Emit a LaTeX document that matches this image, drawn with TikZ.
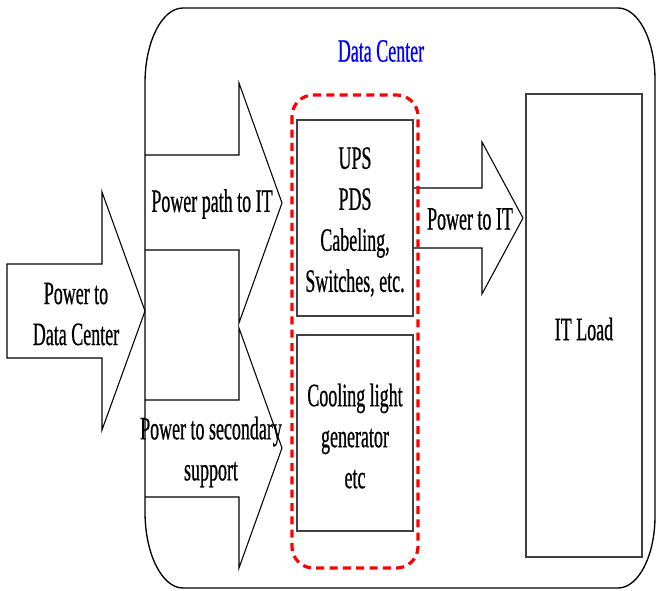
\documentclass[tikz,border=0pt]{standalone}
\usepackage{fontspec}
\setmainfont[FakeStretch=0.55,FakeBold=0.6]{Liberation Serif}
\begin{document}
\begin{tikzpicture}[x=0.75pt,y=-0.75pt,
  lbl/.style={font=\fontsize{24.5}{30.75}\selectfont, align=center, inner sep=0pt},
  arrowshape/.style={draw=black, line width=0.8pt, line join=miter},
  boxshape/.style={draw=black!75, line width=1.3pt},
  groupshape/.style={draw=red, line width=2.4pt, dash pattern=on 6pt off 4pt, rounded corners=16pt}]
\useasboundingbox (0,0) rectangle (656,591);
% outer data center box
\draw[line width=1pt] (145,512) -- (145,83)
  arc[start angle=180,end angle=270,x radius=38,y radius=75] -- (618,8)
  arc[start angle=270,end angle=360,x radius=37,y radius=72] -- (655,516)
  arc[start angle=0,end angle=90,x radius=37,y radius=72] -- (183,588)
  arc[start angle=90,end angle=180,x radius=38,y radius=76] -- cycle;
% power to data center arrow
\draw[arrowshape] (7,264) -- (102,264) -- (102,192) -- (145,311) -- (102,430) -- (102,358) -- (7,358) -- cycle;
% power path to IT arrow
\draw[arrowshape] (145,155) -- (239,155) -- (239,83) -- (282,203) -- (239,323) -- (239,250) -- (145,250);
% power to secondary support arrow
\draw[arrowshape] (145,400) -- (239,400) -- (239,328) -- (282,448) -- (239,568) -- (239,497) -- (145,497);
% power to IT arrow
\draw[arrowshape] (413,188) -- (482,188) -- (482,142) -- (523,218) -- (482,294) -- (482,248) -- (413,248);
% dashed group
\draw[groupshape] (292,95) rectangle (418,568);
% boxes
\draw[boxshape] (297,120) rectangle (413,316);
\draw[boxshape] (297,335) rectangle (413,531);
\draw[boxshape] (526,94) rectangle (642,557);
% labels
\node[lbl, text=blue] (title) at (381,51) {Data Center};
\node[lbl] (pdc) at (76,314) {Power to\\Data Center};
\node[lbl] (ppi) at (212,204) {Power path to IT};
\node[lbl] (pss) at (211,452) {Power to secondary\\support};
\node[lbl] (ups) at (355,222) {UPS\\PDS\\Cabeling,\\Switches, etc.};
\node[lbl] (cool) at (355,436) {Cooling light\\generator\\etc};
\node[lbl] (pit) at (470,219) {Power to IT};
\node[lbl] (itl) at (584,329) {IT Load};
\end{tikzpicture}
\end{document}
